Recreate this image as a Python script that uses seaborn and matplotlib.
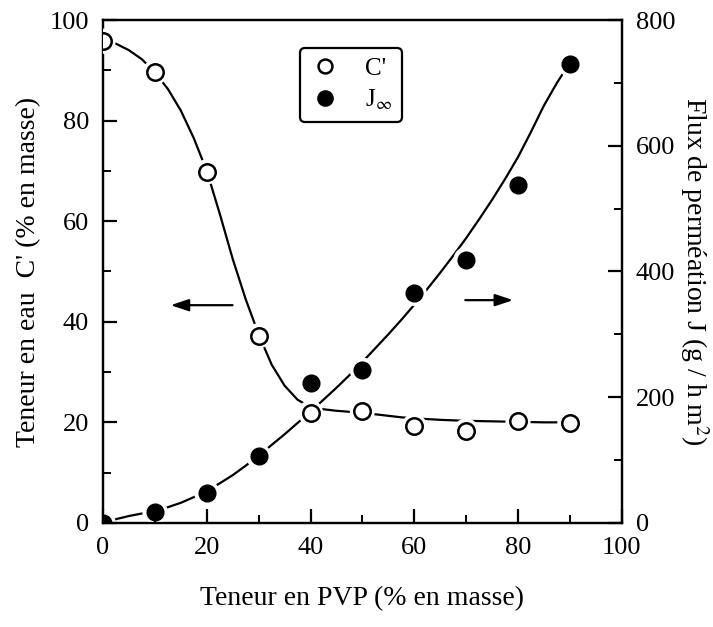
import numpy as np
import pandas as pd
import matplotlib
matplotlib.use("Agg")
import matplotlib.pyplot as plt
from matplotlib.lines import Line2D
from matplotlib.ticker import MultipleLocator
import seaborn as sns

# 1. Data
# ===========================
pvp = [0, 10, 20, 30, 40, 50, 60, 70, 80, 90]
c_prime = [95.8, 89.6, 69.8, 37.2, 21.9, 22.3, 19.2, 18.3, 20.2, 19.8]
j_inf = [0, 18, 48, 106, 222, 243, 365, 419, 537, 730]

# smooth fitted curves
curve_x = [0, 2.5, 5, 7.5, 10, 12.5, 15, 17.5, 20, 22.5, 25, 27.5, 30, 32.5, 35, 37.5,
           40, 42.5, 45, 47.5, 50, 52.5, 55, 57.5, 60, 62.5, 65, 67.5, 70, 72.5, 75,
           77.5, 80, 82.5, 85, 87.5, 90]
curve_c = [96, 95.3, 94, 92.2, 89.6, 86.3, 82, 76.5, 70, 61.5, 52.5, 44.5, 37.5, 31.5,
           27.3, 24.5, 23.0, 22.6, 22.3, 22.1, 21.9, 21.6, 21.3, 21.0, 20.8, 20.65, 20.5,
           20.4, 20.3, 20.25, 20.2, 20.15, 20.1, 20.05, 20.0, 20.0, 20.0]
curve_j = [0, 6, 11, 15, 19, 25, 32, 41, 51, 63, 76, 91, 107, 124, 141, 159, 177, 196,
           215, 235, 256, 278, 300, 323, 347, 372, 398, 425, 453, 483, 514, 547, 582,
           622, 664, 700, 732]

pts = pd.DataFrame({"pvp": pvp, "c": c_prime, "j": j_inf})
curve = pd.DataFrame({"x": curve_x, "c": curve_c, "j": curve_j})

# 2. Style
# ========
sns.set_theme(style="ticks")
plt.rcParams["font.family"] = ["Liberation Serif", "DejaVu Serif"]
plt.rcParams["mathtext.fontset"] = "stix"
plt.rcParams["text.color"] = "black"
plt.rcParams["axes.labelcolor"] = "black"

fig = plt.figure(figsize=(7.13, 6.27), dpi=100)
ax1 = fig.add_axes([0.1445, 0.166, 0.7275, 0.802])
ax2 = ax1.twinx()
ax1.set_zorder(ax2.get_zorder() + 1)
ax1.patch.set_visible(False)

lw = 1.6
ms = 140      # marker area
halo = 330    # white gap around markers

# J (right axis)
sns.lineplot(data=curve, x="x", y="j", ax=ax2, color="black", lw=lw, sort=False)
sns.scatterplot(data=pts, x="pvp", y="j", ax=ax2, s=halo, color="white",
                edgecolor="none", zorder=3)
sns.scatterplot(data=pts, x="pvp", y="j", ax=ax2, s=ms, color="black",
                edgecolor="black", linewidth=1.2, zorder=4)

# C' (left axis)
sns.lineplot(data=curve, x="x", y="c", ax=ax1, color="black", lw=lw, sort=False)
sns.scatterplot(data=pts, x="pvp", y="c", ax=ax1, s=halo, color="white",
                edgecolor="none", zorder=3)
sns.scatterplot(data=pts, x="pvp", y="c", ax=ax1, s=ms, facecolor="white",
                edgecolor="black", linewidth=1.8, zorder=4)

# 3. Axes
# =======
ax1.set_xlim(0, 100)
ax1.set_ylim(0, 100)
ax2.set_ylim(0, 800)

for ax in (ax1, ax2):
    for sp in ax.spines.values():
        sp.set_linewidth(1.6)
        sp.set_color("black")
        sp.set_visible(True)

ax1.xaxis.set_major_locator(MultipleLocator(20))
ax1.xaxis.set_minor_locator(MultipleLocator(10))
ax1.yaxis.set_major_locator(MultipleLocator(20))
ax1.yaxis.set_minor_locator(MultipleLocator(10))
ax2.yaxis.set_major_locator(MultipleLocator(200))
ax2.yaxis.set_minor_locator(MultipleLocator(100))

ax1.tick_params(axis="both", which="major", direction="in", length=10, width=1.6,
                labelsize=19, pad=10, colors="black")
ax1.tick_params(axis="both", which="minor", direction="in", length=6, width=1.4,
                colors="black")
ax1.tick_params(axis="y", right=False)
ax1.tick_params(axis="x", top=False)
ax2.tick_params(axis="y", which="major", direction="in", length=10, width=1.6,
                labelsize=19, pad=10, colors="black")
ax2.tick_params(axis="y", which="minor", direction="in", length=6, width=1.4,
                colors="black")
ax2.tick_params(axis="x", top=False, bottom=False)

ax1.set_xlabel("Teneur en PVP (% en masse)", fontsize=20, labelpad=20)
ax1.set_ylabel("Teneur en eau  C' (% en masse)", fontsize=20, labelpad=6)
ax2.set_ylabel("Flux de perméation J (g / h m$^2$)", fontsize=20,
               rotation=270, labelpad=26)

# arrows pointing to the matching axis
ax1.annotate("", xy=(12.5, 43.3), xytext=(25.5, 43.3),
             arrowprops=dict(arrowstyle="-|>,head_length=0.9,head_width=0.3",
                             color="black", lw=1.6))
ax1.annotate("", xy=(79.6, 44.3), xytext=(69.3, 44.3),
             arrowprops=dict(arrowstyle="-|>,head_length=0.9,head_width=0.3",
                             color="black", lw=1.6))

# legend
handles = [
    Line2D([], [], ls="none", marker="o", markersize=10, markerfacecolor="white",
           markeredgecolor="black", markeredgewidth=1.8),
    Line2D([], [], ls="none", marker="o", markersize=11, markerfacecolor="black",
           markeredgecolor="black"),
]
leg = ax1.legend(handles, ["C'", r"J$_{\infty}$"], loc="upper left",
                 bbox_to_anchor=(0.38, 0.945), borderaxespad=0, fontsize=18,
                 frameon=True, fancybox=True, handletextpad=1.0, borderpad=0.4,
                 labelspacing=0.3, handlelength=1.2)
leg.get_frame().set_edgecolor("black")
leg.get_frame().set_linewidth(1.6)
leg.get_frame().set_alpha(1)

fig.savefig("out.png", dpi=100)
